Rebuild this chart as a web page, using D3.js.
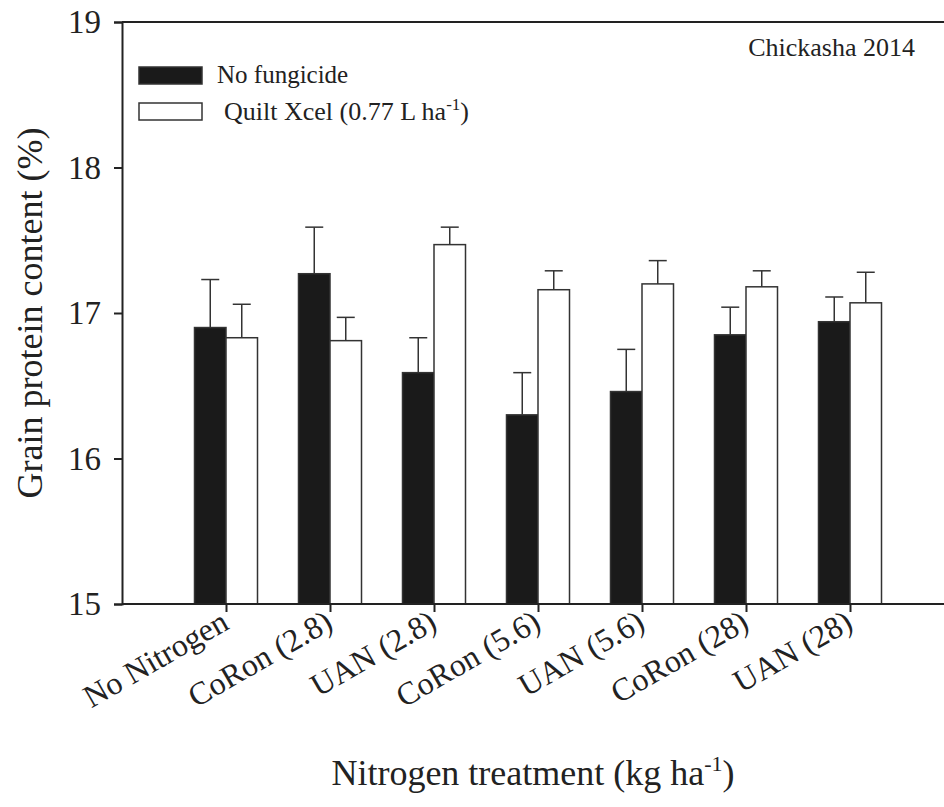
<!DOCTYPE html>
<html>
<head>
<meta charset="utf-8">
<script src="https://cdn.jsdelivr.net/npm/d3@7"></script>
<style>
  body { margin: 0; background: #fff; }
  svg text { font-family: "Liberation Serif", "Times New Roman", serif; fill: #222; }
</style>
</head>
<body>
<div id="chart"></div>
<script>
// data
const treatments = ["No Nitrogen", "CoRon (2.8)", "UAN (2.8)", "CoRon (5.6)", "UAN (5.6)", "CoRon (28)", "UAN (28)"];
const series = ["No fungicide", "Quilt Xcel"];
const noFungicide = [16.90, 17.27, 16.59, 16.30, 16.46, 16.85, 16.94];
const noFungicideErr = [0.33, 0.32, 0.24, 0.29, 0.29, 0.19, 0.17];
const quiltXcel = [16.83, 16.81, 17.47, 17.16, 17.20, 17.18, 17.07];
const quiltXcelErr = [0.23, 0.16, 0.12, 0.13, 0.16, 0.11, 0.21];
const yTicks = [15, 16, 17, 18, 19];

const width = 944, height = 807;
const margin = {top: 22, left: 122, bottom: 604};

const svg = d3.select('#chart').append('svg')
    .attr('width', width)
    .attr('height', height);

var x = d3.scalePoint()
    .domain(treatments)
    .range([margin.left, margin.left + 104 * 8])
    .padding(1);

var xSub = d3.scaleBand()
    .domain(series)
    .range([-31.5, 31.5]);

var y = d3.scaleLinear()
    .domain([15, 19])
    .range([margin.bottom, margin.top]);

var rows = treatments.map(function(t, i) {
  return [
    {cat: t, s: series[0], v: noFungicide[i], e: noFungicideErr[i], fill: '#1a1a1a'},
    {cat: t, s: series[1], v: quiltXcel[i], e: quiltXcelErr[i], fill: '#ffffff'}
  ];
}).flat();

// bars
svg.append('g')
  .selectAll('rect')
  .data(rows)
  .enter()
  .append('rect')
    .attr('x', function(d) { return x(d.cat) + xSub(d.s); })
    .attr('width', xSub.bandwidth())
    .attr('y', function(d) { return y(d.v); })
    .attr('height', function(d) { return y(15) - y(d.v); })
    .attr('fill', function(d) { return d.fill; })
    .attr('stroke', '#333')
    .attr('stroke-width', 1.5);

// error bars (upper only)
var eb = svg.append('g')
    .attr('stroke', '#333')
    .attr('stroke-width', 1.5);
eb.selectAll('line.v')
  .data(rows)
  .enter()
  .append('line')
    .attr('class', 'v')
    .attr('x1', function(d) { return x(d.cat) + xSub(d.s) + xSub.bandwidth() / 2; })
    .attr('x2', function(d) { return x(d.cat) + xSub(d.s) + xSub.bandwidth() / 2; })
    .attr('y1', function(d) { return y(d.v); })
    .attr('y2', function(d) { return y(d.v + d.e); });
eb.selectAll('line.cap')
  .data(rows)
  .enter()
  .append('line')
    .attr('class', 'cap')
    .attr('x1', function(d) { return x(d.cat) + xSub(d.s) + xSub.bandwidth() / 2 - 9; })
    .attr('x2', function(d) { return x(d.cat) + xSub(d.s) + xSub.bandwidth() / 2 + 9; })
    .attr('y1', function(d) { return y(d.v + d.e); })
    .attr('y2', function(d) { return y(d.v + d.e); });

// axes
var yAxis = svg.append('g')
    .attr('transform', 'translate(' + margin.left + ',0)')
    .call(d3.axisLeft(y).tickValues(yTicks).tickSize(8).tickPadding(13).tickFormat(d3.format('d')));
yAxis.selectAll('text').style('font-size', '33px');

var xAxis = svg.append('g')
    .attr('transform', 'translate(0,' + margin.bottom + ')')
    .call(d3.axisBottom(x).tickSize(8).tickSizeOuter(0));
xAxis.select('.domain').attr('d', 'M' + margin.left + ',0H' + (width + 10));
xAxis.selectAll('text')
    .style('font-size', '32px')
    .style('text-anchor', 'end')
    .attr('x', 0).attr('y', 0).attr('dy', 0)
    .attr('transform', 'translate(4,24) rotate(-30)');

svg.selectAll('.domain, .tick line').attr('stroke', '#222').attr('stroke-width', 2);

// top spine
svg.append('line')
    .attr('x1', margin.left).attr('x2', width + 10)
    .attr('y1', margin.top).attr('y2', margin.top)
    .attr('stroke', '#222').attr('stroke-width', 2);

// legend
var legend = svg.append('g');
legend.append('rect').attr('x', 139).attr('y', 67).attr('width', 63).attr('height', 17)
    .attr('fill', '#1a1a1a').attr('stroke', '#333').attr('stroke-width', 1.5);
legend.append('rect').attr('x', 139).attr('y', 103).attr('width', 63).attr('height', 17)
    .attr('fill', '#fff').attr('stroke', '#333').attr('stroke-width', 1.5);
legend.append('text').attr('x', 217).attr('y', 83).style('font-size', '25px').text('No fungicide');
var lt = legend.append('text').attr('x', 224).attr('y', 120).style('font-size', '26px');
lt.append('tspan').text('Quilt Xcel (0.77 L ha');
lt.append('tspan').attr('dy', -10).style('font-size', '17px').text('-1');
lt.append('tspan').attr('dy', 10).text(')');

svg.append('text').attr('x', 915).attr('y', 56).attr('text-anchor', 'end')
    .style('font-size', '26px').text('Chickasha 2014');

// axis titles
var xt = svg.append('text').attr('x', 533).attr('y', 785).attr('text-anchor', 'middle')
    .style('font-size', '36px');
xt.append('tspan').text('Nitrogen treatment (kg ha');
xt.append('tspan').attr('dy', -14).style('font-size', '22px').text('-1');
xt.append('tspan').attr('dy', 14).text(')');

svg.append('text')
    .attr('transform', 'translate(42,' + y(17) + ') rotate(-90)')
    .attr('text-anchor', 'middle')
    .style('font-size', '36px')
    .text('Grain protein content (%)');
</script>
</body>
</html>
